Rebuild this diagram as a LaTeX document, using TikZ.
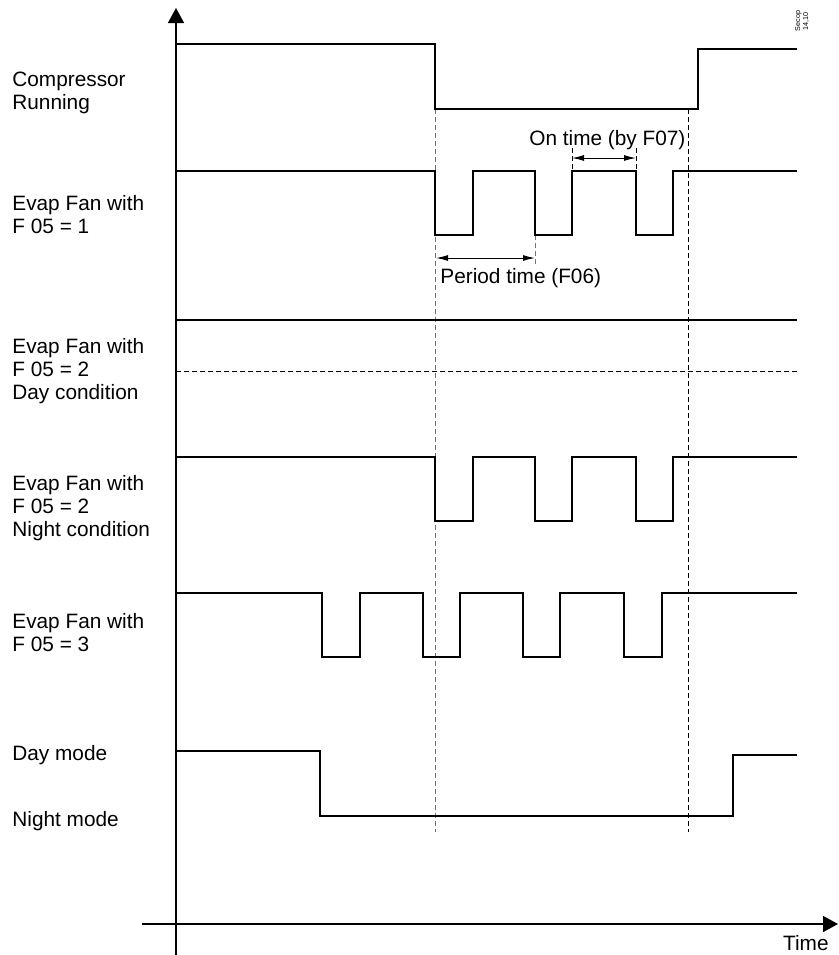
\documentclass[tikz,border=0pt]{standalone}
\usepackage{fontspec}
\setmainfont{Liberation Sans}
\usetikzlibrary{arrows.meta}

\begin{document}
\begin{tikzpicture}[x=0.5pt,y=0.5pt,yscale=-1,xscale=1,
    sig/.style={line width=1.25pt},
    guide/.style={line width=0.5pt, dash pattern={on 2.5pt off 1.5pt}},
    dim/.style={line width=0.5pt, {Latex[length=6pt,width=3pt]}-{Latex[length=6pt,width=3pt]}},
    axis/.style={line width=0.75pt, -{Triangle[length=7.5pt,width=8pt]}},
    lbl/.style={anchor=base west, inner sep=0pt, align=left, font=\fontsize{10.4}{11.4}\selectfont}]
    \useasboundingbox (0,0) rectangle (839,955);

    %Axes
    \draw [axis] (176,955) -- (176,8) ;
    \draw [axis] (142,924) -- (838,924) ;

    %Dashed guides
    \draw [guide, black!55] (435,109) -- (435,832) ;
    \draw [guide] (688,109) -- (688,832) ;
    \draw [guide] (176,371) -- (797,371) ;
    \draw [guide, black!55] (535,235) -- (535,266) ;
    \draw [guide] (572,148) -- (572,171) ;
    \draw [guide] (636,148) -- (636,171) ;

    %Compressor running
    \draw [sig] (176,44) -- (435,44) -- (435,109) -- (698,109) -- (698,49) -- (797,49) ;
    %Evap fan F 05 = 1
    \draw [sig] (176,171) -- (435,171) -- (435,235) -- (473,235) -- (473,171) -- (535,171) -- (535,235) -- (572,235) -- (572,171) -- (636,171) -- (636,235) -- (673,235) -- (673,171) -- (797,171) ;
    %Evap fan F 05 = 2, day
    \draw [sig] (176,320) -- (797,320) ;
    %Evap fan F 05 = 2, night
    \draw [sig] (176,457) -- (435,457) -- (435,521) -- (473,521) -- (473,457) -- (535,457) -- (535,521) -- (572,521) -- (572,457) -- (636,457) -- (636,521) -- (673,521) -- (673,457) -- (797,457) ;
    %Evap fan F 05 = 3
    \draw [sig] (176,593) -- (322,593) -- (322,657) -- (360,657) -- (360,593) -- (423,593) -- (423,657) -- (460,657) -- (460,593) -- (523,593) -- (523,657) -- (560,657) -- (560,593) -- (624,593) -- (624,657) -- (662,657) -- (662,593) -- (797,593) ;
    %Day / night mode
    \draw [sig] (176,751) -- (320,751) -- (320,816) -- (733,816) -- (733,755) -- (797,755) ;

    %Dimension arrows
    \coordinate (perL) at (436,258) ;
    \coordinate (perR) at (535,258) ;
    \coordinate (onL) at (572,158) ;
    \coordinate (onR) at (636,158) ;
    \draw [dim] (perL) -- (perR) ;
    \draw [dim] (onL) -- (onR) ;

    % Text Node (anchored at the last line)
    \draw (12,109) node (tcomp) [lbl] {Compressor\\Running};
    % Text Node
    \draw (12,233) node (tfan1) [lbl] {Evap Fan with\\F 05 = 1};
    % Text Node
    \draw (12,399) node (tfan2d) [lbl] {Evap Fan with\\F 05 = 2\\Day condition};
    % Text Node
    \draw (12,536) node (tfan2n) [lbl] {Evap Fan with\\F 05 = 2\\Night condition};
    % Text Node
    \draw (12,651) node (tfan3) [lbl] {Evap Fan with\\F 05 = 3};
    % Text Node
    \draw (12,760) node (tday) [lbl] {Day mode};
    % Text Node
    \draw (12,826) node (tnight) [lbl] {Night mode};
    % Text Node
    \draw (440,283) node (tper) [lbl] {Period time (F06)};
    % Text Node
    \draw (529,145) node (ton) [lbl] {On time (by F07)};
    % Text Node
    \draw (829,950) node (ttime) [anchor=base east, inner sep=0pt, font=\fontsize{10.4}{11.4}\selectfont] {Time};
    % Text Node
    \draw (802,21) node (tsecop) [rotate=90, align=center, inner sep=0pt, font=\fontsize{3.6}{4}\selectfont] {Secop\\14,10};
\end{tikzpicture}
\end{document}
